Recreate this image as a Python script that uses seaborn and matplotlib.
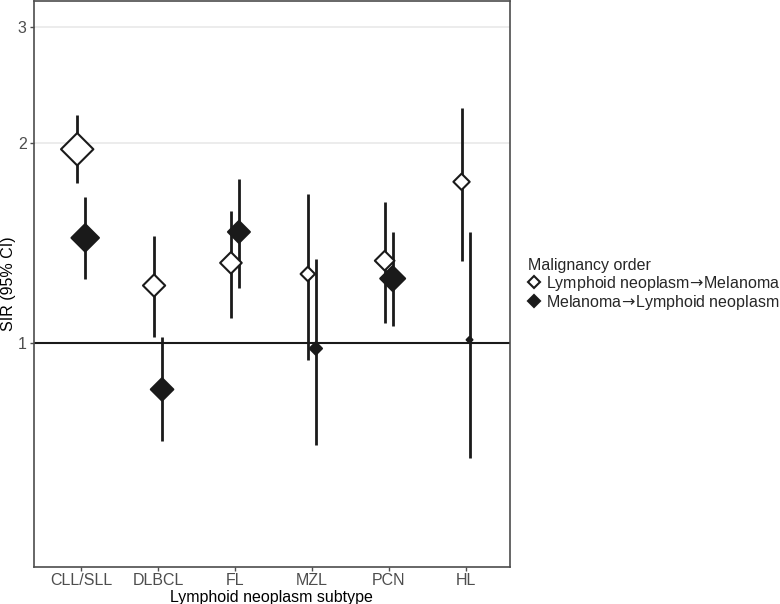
import matplotlib
matplotlib.use("Agg")
import matplotlib.pyplot as plt
from matplotlib.lines import Line2D
from matplotlib.ticker import FixedLocator, NullLocator, FixedFormatter
import numpy as np
import pandas as pd
import seaborn as sns

# Data
subtypes = ["CLL/SLL", "DLBCL", "FL", "MZL", "PCN", "HL"]
arrow = "$\\!\\rightarrow\\!$"
orders = ["Lymphoid neoplasm" + arrow + "Melanoma", "Melanoma" + arrow + "Lymphoid neoplasm"]

# Lymphoid neoplasm -> Melanoma
sir_lm = [1.96, 1.22, 1.32, 1.27, 1.33, 1.75]
lo_lm = [1.74, 1.02, 1.09, 0.94, 1.07, 1.33]
hi_lm = [2.21, 1.45, 1.58, 1.68, 1.63, 2.26]
weight_lm = [272, 128, 121, 54, 100, 69]

# Melanoma -> Lymphoid neoplasm
sir_ml = [1.44, 0.85, 1.47, 0.98, 1.25, 1.01]
lo_ml = [1.25, 0.71, 1.21, 0.70, 1.06, 0.67]
hi_ml = [1.66, 1.02, 1.77, 1.34, 1.47, 1.47]
weight_ml = [196, 132, 125, 40, 161, 9]

df = pd.DataFrame({
    "subtype": subtypes * 2,
    "order": [orders[0]] * 6 + [orders[1]] * 6,
    "sir": sir_lm + sir_ml,
    "lo": lo_lm + lo_ml,
    "hi": hi_lm + hi_ml,
    "weight": weight_lm + weight_ml,
})
# dodge the two orders around each category
df["xpos"] = df["subtype"].map({s: i for i, s in enumerate(subtypes)}) + \
    df["order"].map({orders[0]: -0.052, orders[1]: 0.052})

sns.set_theme(style="white")
plt.rcParams["font.family"] = ["Liberation Sans", "DejaVu Sans"]
plt.rcParams["mathtext.fontset"] = "dejavusans"

fig = plt.figure(figsize=(7.8, 6.04), dpi=100)
ax = fig.add_axes([0.043, 0.062, 0.611, 0.936])
ax.set_yscale("log")

# gridlines and reference line
for g in [1, 2, 3]:
    ax.axhline(g, color="#ebebeb", lw=1.3, zorder=0)
ax.axhline(1, color="#1a1a1a", lw=1.5, zorder=1)

# confidence intervals
ax.vlines(df["xpos"], df["lo"], df["hi"], color="#1a1a1a", lw=2, zorder=2)

# points
sns.scatterplot(data=df, x="xpos", y="sir", hue="order", size="weight",
                sizes=(df["weight"].min(), df["weight"].max()),
                palette={orders[0]: "white", orders[1]: "#1a1a1a"},
                marker="D", edgecolor="#1a1a1a", linewidth=1.5,
                legend=False, zorder=3, ax=ax)

ax.set_xlim(-0.62, 5.58)
ax.set_ylim(0.459, 3.28)
ax.yaxis.set_major_locator(FixedLocator([1, 2, 3]))
ax.yaxis.set_major_formatter(FixedFormatter(["1", "2", "3"]))
ax.yaxis.set_minor_locator(NullLocator())
ax.set_xticks(range(len(subtypes)))
ax.set_xticklabels(subtypes)
ax.tick_params(axis="both", colors="#4d4d4d", labelsize=11.5, length=3,
               width=1, direction="out", left=True, bottom=True, pad=2)
ax.set_xlabel("Lymphoid neoplasm subtype", fontsize=11.5, color="black", labelpad=1)
ax.set_ylabel("SIR (95% CI)", fontsize=11.5, color="black", labelpad=1)
for sp in ax.spines.values():
    sp.set_color("#4d4d4d")
    sp.set_linewidth(1.2)

handles = [
    Line2D([], [], ls="none", marker="D", markersize=6, markerfacecolor="white",
           markeredgecolor="#1a1a1a", markeredgewidth=1.5),
    Line2D([], [], ls="none", marker="D", markersize=6, markerfacecolor="#1a1a1a",
           markeredgecolor="#1a1a1a", markeredgewidth=1.5),
]
fig.legend(handles, orders, title="Malignancy order", loc="center left",
           bbox_to_anchor=(0.677, 0.528), frameon=False, fontsize=11.5,
           title_fontsize=11.5, alignment="left", handlelength=0.8,
           handletextpad=0.3, labelspacing=0.02, borderpad=0, borderaxespad=0)

fig.savefig("out.png", dpi=100)
